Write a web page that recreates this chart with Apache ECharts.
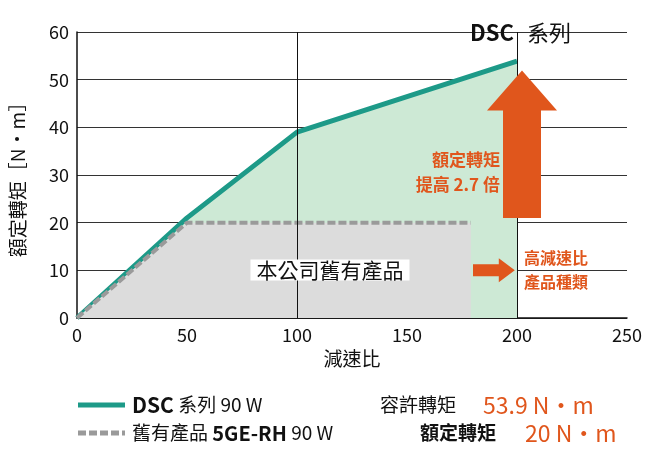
<!DOCTYPE html><html><head><meta charset="utf-8">
<script src="https://cdn.jsdelivr.net/npm/echarts@6/dist/echarts.min.js"></script>
<style>body{margin:0}#c{width:654px;height:452px}</style></head><body><div id="c"></div>
<script>
const dscData=[[0,0],[50,21],[100,39],[200,53.9]];
const oldData=[[0,0],[50,20],[100,20],[179,20]];
const xTicks=[0,50,100,150,200,250];
const yTicks=[0,10,20,30,40,50,60];
const chart=echarts.init(document.getElementById('c'));
const F='"Noto Sans CJK TC","Noto Sans",sans-serif';
const OR='#e0561c';
chart.setOption({
 animation:false,
 grid:{left:75,right:27,top:32,bottom:134},
 xAxis:{type:'value',min:0,max:250,interval:50,name:'減速比',nameLocation:'middle',nameGap:24,
  nameTextStyle:{fontSize:19,color:'#111',fontFamily:F},
  axisLine:{lineStyle:{color:'#111',width:1.5}},axisTick:{show:false},
  axisLabel:{fontSize:18,color:'#111',fontFamily:F},splitLine:{show:false}},
 yAxis:{type:'value',min:0,max:60,interval:10,name:'額定轉矩［N・m］',nameLocation:'middle',nameGap:50,
  nameTextStyle:{fontSize:19,color:'#111',fontFamily:F},
  axisLine:{show:true,lineStyle:{color:'#111',width:1.5}},axisTick:{show:false},
  axisLabel:{fontSize:18,color:'#111',fontFamily:F},
  splitLine:{lineStyle:{color:'#333',width:1}}},
 series:[
  {type:'line',data:dscData,symbol:'none',lineStyle:{color:'#1d9a88',width:5},
   areaStyle:{color:'#cde9d5',opacity:1},z:2,
   markLine:{symbol:'none',silent:true,label:{show:false},lineStyle:{color:'#111',type:'solid',width:1},data:[{xAxis:100},{xAxis:200}]}},
  {type:'line',data:oldData,symbol:'none',lineStyle:{color:'#9a9a9a',width:4,type:[8,3]},
   areaStyle:{color:'#dcdcdc',opacity:1},z:3}
 ]
});
const p=(x,y)=>chart.convertToPixel({gridIndex:0},[x,y]);
const a1=p(200,21),a2=p(200,54),h1=p(180,10),h2=p(199,10);
chart.setOption({graphic:[
 {type:'polygon',shape:{points:[[a1[0]-14,a1[1]],[a1[0]-14,a2[1]+50],[a1[0]-30,a2[1]+50],[a1[0]+5,a2[1]+10],[a1[0]+40,a2[1]+50],[a1[0]+24,a2[1]+50],[a1[0]+24,a1[1]]]},style:{fill:OR},z:10},
 {type:'polygon',shape:{points:[[h1[0],h1[1]-6],[h2[0]-16,h1[1]-6],[h2[0]-16,h1[1]-12],[h2[0],h1[1]],[h2[0]-16,h1[1]+12],[h2[0]-16,h1[1]+6],[h1[0],h1[1]+6]]},style:{fill:OR},z:10},
 {type:'text',x:330,y:270,style:{text:'本公司舊有產品',fontFamily:F,fontSize:21,fill:'#111',backgroundColor:'#fff',padding:[0,6],align:'center',verticalAlign:'middle'},z:10},
 {type:'text',x:470,y:33,style:{text:'DSC',fontFamily:F,fontSize:22,fontWeight:'bold',fill:'#111',verticalAlign:'middle'},z:10},
 {type:'text',x:527,y:33,style:{text:'系列',fontFamily:F,fontSize:22,fill:'#111',verticalAlign:'middle'},z:10},
 {type:'text',x:500,y:172,style:{text:'額定轉矩\n提高 2.7 倍',fontFamily:F,fontSize:17,fontWeight:'bold',fill:OR,align:'right',verticalAlign:'middle',lineHeight:25},z:10},
 {type:'text',x:524,y:270,style:{text:'高減速比\n產品種類',fontFamily:F,fontSize:16,fontWeight:'bold',fill:OR,verticalAlign:'middle',lineHeight:24},z:10},
 {type:'line',shape:{x1:78,y1:405,x2:125,y2:405},style:{stroke:'#1d9a88',lineWidth:5}},
 {type:'line',shape:{x1:78,y1:433,x2:125,y2:433},style:{stroke:'#9a9a9a',lineWidth:5,lineDash:[8,3]}},
 {type:'text',x:132,y:405,style:{text:'{b|DSC} 系列 90 W',fontFamily:F,fontSize:19,fill:'#111',verticalAlign:'middle',rich:{b:{fontWeight:'bold',fontSize:21,fontFamily:F}}}},
 {type:'text',x:132,y:433,style:{text:'舊有產品 {b|5GE-RH} 90 W',fontFamily:F,fontSize:19,fill:'#111',verticalAlign:'middle',rich:{b:{fontWeight:'bold',fontSize:20,fontFamily:F}}}},
 {type:'text',x:380,y:405,style:{text:'容許轉矩',fontFamily:F,fontSize:19,fill:'#111',verticalAlign:'middle'}},
 {type:'text',x:420,y:433,style:{text:'額定轉矩',fontFamily:F,fontSize:19,fontWeight:'bold',fill:'#111',verticalAlign:'middle'}},
 {type:'text',x:483,y:405,style:{text:'53.9 N・m',fontFamily:F,fontSize:23,fill:OR,verticalAlign:'middle'}},
 {type:'text',x:525,y:433,style:{text:'20 N・m',fontFamily:F,fontSize:23,fill:OR,verticalAlign:'middle'}}
]});
</script></body></html>
